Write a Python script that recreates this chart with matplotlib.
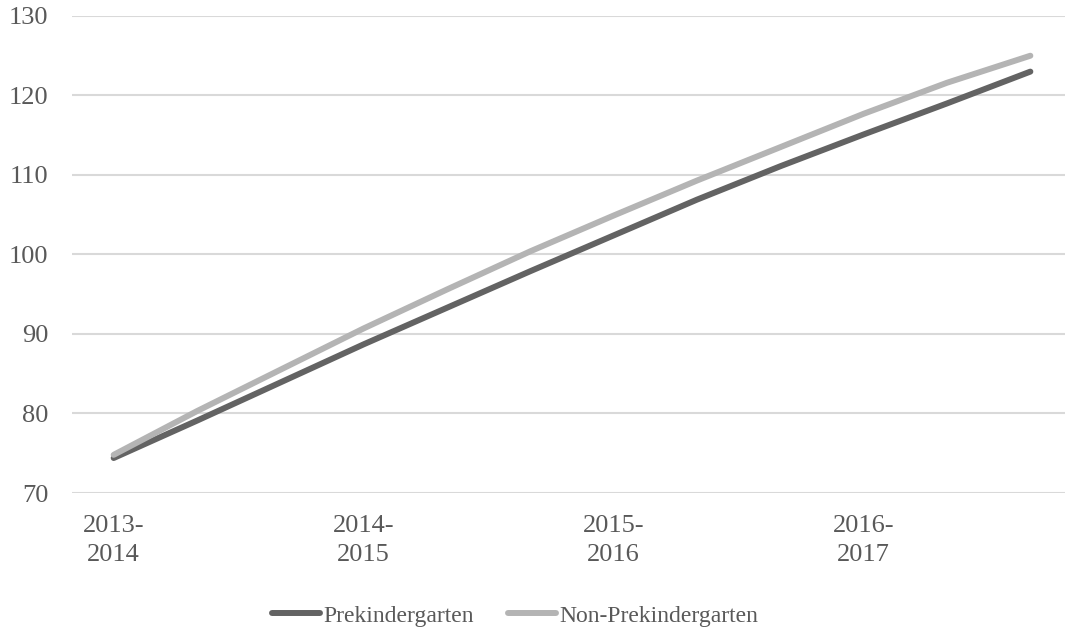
import matplotlib.pyplot as plt
from matplotlib.lines import Line2D

plt.rcParams['font.family'] = ['Liberation Serif', 'DejaVu Serif']

# 12 measurement points (3 per school year), labelled once per year
years = ["2013-\n2014", "2014-\n2015", "2015-\n2016", "2016-\n2017"]
label_every = 3
prek = [74.4, 79.1, 83.9, 88.7, 93.3, 97.9, 102.4, 106.9, 111.1, 115.1, 119.0, 123.0]
non_prek = [74.8, 80.3, 85.5, 90.7, 95.6, 100.4, 104.9, 109.3, 113.5, 117.7, 121.6, 125.0]

dark = "#636363"
light = "#b4b4b4"
text_color = "#595959"

fig = plt.figure(figsize=(10.65, 6.31), dpi=100)
ax = fig.add_axes([0.0676, 0.2187, 0.939, 0.756])

x = list(range(len(prek)))
ax.plot(x, prek, color=dark, lw=4.3, solid_capstyle='round', zorder=3)
ax.plot(x, non_prek, color=light, lw=4.3, solid_capstyle='round', zorder=3)

ax.set_xlim(-0.5, len(prek) - 0.5)
ax.set_ylim(70, 130)
ax.set_yticks(range(70, 131, 10))
ax.set_xticks(range(0, len(years) * label_every, label_every))
ax.set_xticklabels(years, multialignment='center', linespacing=1.38)

ax.grid(axis='y', color='#d9d9d9', lw=1.5)
ax.set_axisbelow(True)
for s in ax.spines.values():
    s.set_visible(False)
ax.tick_params(axis='both', length=0, labelsize=19, labelcolor=text_color)
ax.tick_params(axis='y', pad=17)
ax.tick_params(axis='x', pad=16)

handles = [
    Line2D([], [], color=dark, lw=4.3, solid_capstyle='round'),
    Line2D([], [], color=light, lw=4.3, solid_capstyle='round'),
]
leg = fig.legend(handles, ["Prekindergarten", "Non-Prekindergarten"],
                 loc='center', bbox_to_anchor=(0.4836, 0.024), ncol=2,
                 frameon=False, fontsize=17, handlelength=2.05,
                 handletextpad=0.13, columnspacing=1.45)
for t in leg.get_texts():
    t.set_color(text_color)

fig.savefig("out.png", dpi=100)
